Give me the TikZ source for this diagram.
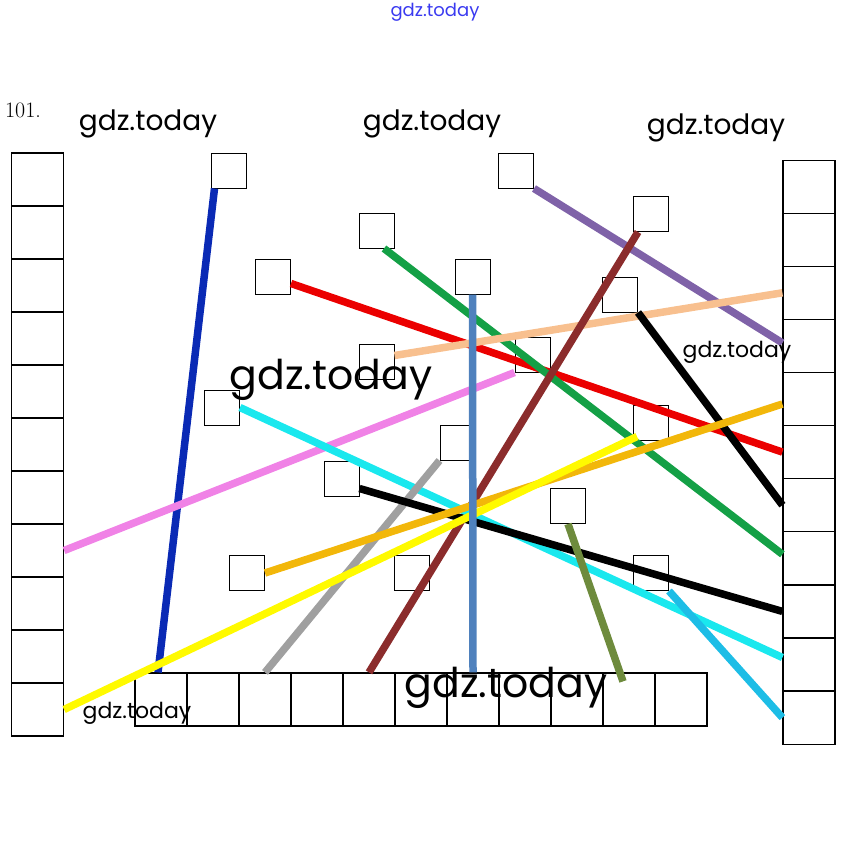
\documentclass[tikz,border=0pt]{standalone}
\usepackage{fontspec}
\newfontfamily\wmfont{Poppins}
\usepackage{tikz}
\usetikzlibrary{positioning, calc}
\definecolor{lineblue}{HTML}{0A2AB5}
\definecolor{linered}{HTML}{EB0000}
\definecolor{linegreen}{HTML}{14A046}
\definecolor{linesteel}{HTML}{4F81BD}
\definecolor{linepurple}{HTML}{7F62A8}
\definecolor{linepeach}{HTML}{F8C08F}
\definecolor{linepink}{HTML}{F082E6}
\definecolor{linebrown}{HTML}{8B2C2C}
\definecolor{linecyan}{HTML}{1AE8EE}
\definecolor{linegray}{HTML}{A0A0A0}
\definecolor{linegold}{HTML}{F2B70A}
\definecolor{lineyellow}{HTML}{FFFA00}
\definecolor{lineolive}{HTML}{6E8B3D}
\definecolor{linesky}{HTML}{1DBDE6}
\definecolor{wmblue}{HTML}{3A3AF0}

\begin{document}
\begin{tikzpicture}[x=1pt, y=-1pt,
    cell/.style={draw, minimum width=52pt, minimum height=53pt, inner sep=0pt, line width=1.2pt},
    sq/.style={draw, minimum size=35pt, inner sep=0pt, line width=1pt},
    link/.style={line width=7.5pt},
    wm/.style={font=\wmfont\fontsize{#1}{#1}\selectfont, inner sep=0pt}]
    \useasboundingbox (0,0) rectangle (867,849);

    % Columns and bottom row
    \foreach \i in {1,...,11} {
        \node[cell] (L\i) at (37.5, {126.5+53*\i}) {};
        \node[cell] (R\i) at (809, {133.5+53.1*\i}) {};
        \node[cell] (B\i) at ({109+52*\i}, 699.5) {};
    }

    % Loose squares
    \node[sq] (S1) at (228.5,170.5) {};
    \node[sq] (S2) at (273,276.5) {};
    \node[sq] (S3) at (377,230.5) {};
    \node[sq] (S4) at (472.5,276.5) {};
    \node[sq] (S5) at (516,170.5) {};
    \node[sq] (S6) at (376.5,361.5) {};
    \node[sq] (S7) at (532.5,354.5) {};
    \node[sq] (S8) at (651,214) {};
    \node[sq] (S9) at (620,294.5) {};
    \node[sq] (S10) at (651,422.5) {};
    \node[sq] (S11) at (222,407.5) {};
    \node[sq] (S12) at (457.5,442.5) {};
    \node[sq] (S13) at (341.5,478.5) {};
    \node[sq] (S14) at (247,573) {};
    \node[sq] (S15) at (412,573) {};
    \node[sq] (S16) at (568,506) {};
    \node[sq] (S17) at (651,573) {};

    % Connecting lines
    \draw[link, lineblue] ([xshift=4pt]S1.south west) -- ([xshift=-3pt]B1.north);
    \draw[link, linered] ([yshift=-7pt]S2.east) -- (R6.west);
    \draw[link, linegreen] ([xshift=7pt]S3.south) -- ([yshift=4pt]R8.west);
    \draw[link, linepurple] (S5.south east) -- ([yshift=3pt]R4.west);
    \draw[link, linepeach] ([yshift=6pt]S6.east) -- (R3.west);
    \draw[link, linepink] (S7.south west) -- (L8.east);
    \draw[link, linebrown] ([xshift=5pt]S8.south west) -- (B5.north);
    \draw[link, black] (S9.south east) -- (R7.west);
    \draw[link, linecyan] (S11.east) -- ([yshift=7pt]R10.west);
    \draw[link, linegray] (S12.south west) -- (B3.north);
    \draw[link, black] ([yshift=-10pt]S13.east) -- (R9.west);
    \draw[link, linegold] (S14.east) -- ([yshift=-5pt]R5.west);
    \draw[link, lineyellow] (L11.east) -- ([xshift=4pt,yshift=4pt]S10.south west);
    \draw[link, linesteel] (S4.south) -- (B7.north);
    \draw[link, lineolive] (S16.south) -- ([xshift=-6pt,yshift=-9pt]B10.north);
    \draw[link, linesky] (S17.south east) -- (R11.west);

    % Texts
    \node[font=\fontsize{22}{26}\selectfont, inner sep=0pt] (num) at (23,110) {101.};
    \node[wm=18, text=wmblue] (wm0) at (435,12) {gdz.today};
    \node[wm=28] (wm1) at (148,124) {gdz.today};
    \node[wm=28] (wm2) at (432,124) {gdz.today};
    \node[wm=28] (wm3) at (716,128) {gdz.today};
    \node[wm=22] (wm4) at (737,352) {gdz.today};
    \node[wm=41] (wm5) at (331,380) {gdz.today};
    \node[wm=41] (wm6) at (506,688) {gdz.today};
    \node[wm=22] (wm7) at (137,713) {gdz.today};
\end{tikzpicture}
\end{document}
